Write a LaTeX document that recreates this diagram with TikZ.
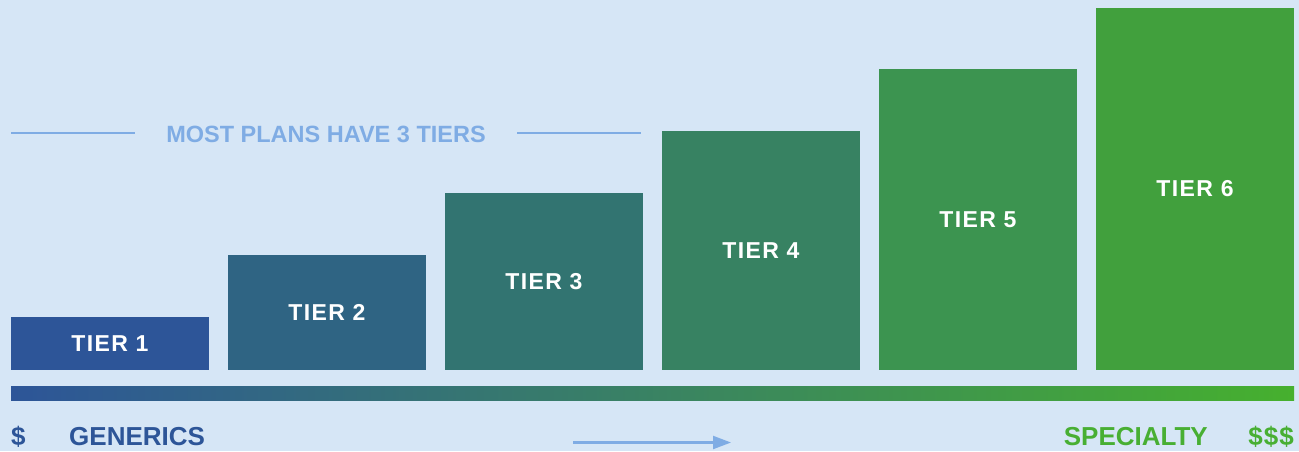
\documentclass[tikz,border=0pt]{standalone}
\usepackage{fontspec}
\setmainfont{Liberation Sans}
\usetikzlibrary{arrows.meta}
\definecolor{bg}{HTML}{D6E6F6}
\definecolor{tA}{HTML}{2D5598}
\definecolor{tB}{HTML}{2F6483}
\definecolor{tC}{HTML}{327471}
\definecolor{tD}{HTML}{378262}
\definecolor{tE}{HTML}{3C9450}
\definecolor{tF}{HTML}{41A03D}
\definecolor{barR}{HTML}{46B02E}
\definecolor{lightblue}{HTML}{7FACE4}
\definecolor{specgreen}{HTML}{48AF33}
\tikzset{
  tierbox/.style={draw=none, minimum width=198pt, inner sep=0pt, text=white,
    font=\fontsize{23}{23}\selectfont\bfseries\addfontfeatures{LetterSpace=6}},
  bottomlabel/.style={inner sep=0pt, font=\fontsize{26}{26}\selectfont\bfseries},
  guide/.style={draw=lightblue, line width=2.5pt},
}
\begin{document}
\begin{tikzpicture}[x=1pt,y=-1pt]
\fill[bg] (0,0) rectangle (1299,451);
\useasboundingbox (0,0) rectangle (1299,451);
% tiers
\node[tierbox, fill=tA, minimum height=53pt]  (t1) at (110,343.5) {TIER 1};
\node[tierbox, fill=tB, minimum height=115pt] (t2) at (327,312.5) {TIER 2};
\node[tierbox, fill=tC, minimum height=177pt] (t3) at (544,281.5) {TIER 3};
\node[tierbox, fill=tD, minimum height=239pt] (t4) at (761,250.5) {TIER 4};
\node[tierbox, fill=tE, minimum height=301pt] (t5) at (978,219.5) {TIER 5};
\node[tierbox, fill=tF, minimum height=362pt] (t6) at (1195,189) {TIER 6};
% gradient bar
\shade[left color=tA, right color=barR] (11,386) rectangle (1294,400);
% title
\node[inner sep=0pt, text=lightblue, anchor=base] (title) at (326,142)
  {\fontsize{23.5}{23.5}\selectfont\bfseries MOST PLANS HAVE 3 TIERS};
\coordinate (l1a) at (11,133);
\coordinate (l1b) at (135,133);
\coordinate (l2a) at (517,133);
\coordinate (l2b) at (641,133);
\draw[guide] (l1a) -- (l1b);
\draw[guide] (l2a) -- (l2b);
% bottom labels
\node[bottomlabel, text=tA, anchor=base west] (d1) at (11,445.5) {\$};
\node[bottomlabel, text=tA, anchor=base west] (gen) at (69,445.5) {GENERICS};
\node[bottomlabel, text=specgreen, anchor=base east] (spec) at (1208,445.5) {SPECIALTY};
\node[bottomlabel, text=specgreen, anchor=base east] (d3) at (1294,445.5) {\$\kern1pt\$\kern1pt\$};
% arrow
\coordinate (a1) at (573,442.5);
\coordinate (a2) at (731,442.5);
\draw[draw=lightblue, line width=2.2pt, -{Triangle[length=18pt,width=13pt]}] (a1) -- (a2);
\end{tikzpicture}
\end{document}
